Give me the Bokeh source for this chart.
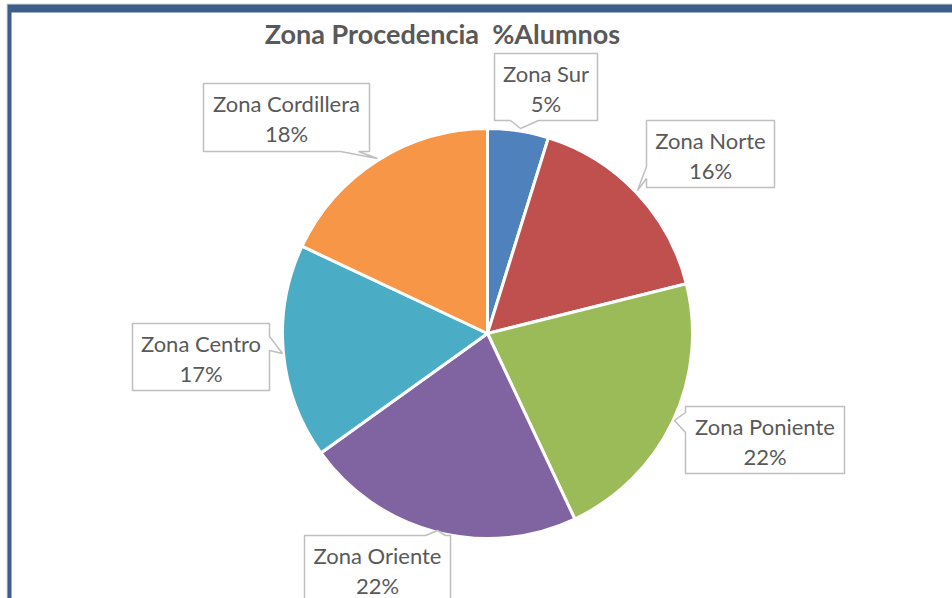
import math
from bokeh.plotting import figure
from bokeh.models import Range1d, ColumnDataSource
from bokeh.core.properties import value
from bokeh.embed import file_html
from bokeh.resources import INLINE

# ---- data ----
categories = ["Zona Sur", "Zona Norte", "Zona Poniente", "Zona Oriente", "Zona Centro", "Zona Cordillera"]
percent = [4.8, 16.3, 21.9, 22.1, 16.9, 18.0]
colors = ["#4F81BD", "#C0504D", "#9BBB59", "#8064A2", "#4BACC6", "#F79646"]
title_text = "Zona Procedencia  %Alumnos"

W, H = 952, 598
def Y(y):
    return H - y

p = figure(width=W, height=H, x_range=Range1d(0, W), y_range=Range1d(0, H),
           output_backend="svg", toolbar_location=None, min_border=0,
           background_fill_color="white", border_fill_color="white")
p.axis.visible = False
p.grid.visible = False
p.outline_line_color = None

# frame border
p.quad(left=[6], right=[W], bottom=[Y(598)], top=[Y(3)], fill_color="#D9D9D9", line_color=None)
p.quad(left=[7], right=[W], bottom=[Y(598)], top=[Y(4)], fill_color="#3B5E8C", line_color=None)
p.quad(left=[11], right=[W], bottom=[Y(598)], top=[Y(12)], fill_color="white", line_color=None)

# pie
cx, cy, R = 487, Y(333), 205
total = sum(percent)
starts, ends = [], []
acc = 0.0
for v in percent:
    starts.append(math.pi / 2 - acc / total * 2 * math.pi)
    acc += v
    ends.append(math.pi / 2 - acc / total * 2 * math.pi)
src = ColumnDataSource(dict(start=starts, end=ends, color=colors, cat=categories))
p.wedge(x=cx, y=cy, radius=R, start_angle="start", end_angle="end", direction="clock",
        fill_color="color", line_color="white", line_width=3, source=src)

# callout layout (pixel positions, top-down)
boxes = {
    "Zona Sur": dict(box=(494, 53, 597, 120), side="bottom", base=(510, 538), tip=(520, 128)),
    "Zona Norte": dict(box=(646, 120, 774, 187), side="left", base=(166, 178), tip=(637, 190)),
    "Zona Poniente": dict(box=(685, 406, 844, 473), side="left", base=(412, 432), tip=(674, 420)),
    "Zona Oriente": dict(box=(304, 535, 450, 620), side="top", base=(425, 445), tip=(437, 530)),
    "Zona Centro": dict(box=(132, 323, 269, 390), side="right", base=(336, 350), tip=(282, 353)),
    "Zona Cordillera": dict(box=(203, 83, 369, 151), side="bottom", base=(340, 358), tip=(377, 158)),
}

xs, ys = [], []
for cat in categories:
    d = boxes[cat]
    l, t, r, b = d["box"]
    b0, b1 = d["base"]
    tx, ty = d["tip"]
    if d["side"] == "bottom":
        pts = [(l, t), (r, t), (r, b), (b1, b), (tx, ty), (b0, b), (l, b)]
    elif d["side"] == "top":
        pts = [(l, t), (b0, t), (tx, ty), (b1, t), (r, t), (r, b), (l, b)]
    elif d["side"] == "left":
        pts = [(l, t), (r, t), (r, b), (l, b), (l, b1), (tx, ty), (l, b0)]
    else:
        pts = [(l, t), (r, t), (r, b0), (tx, ty), (r, b1), (r, b), (l, b)]
    xs.append([pt[0] for pt in pts])
    ys.append([Y(pt[1]) for pt in pts])
p.patches(xs=xs, ys=ys, fill_color="white", line_color="#BFBFBF", line_width=1.5)

name_x, name_y, pct_y, pct_txt = [], [], [], []
for cat, v in zip(categories, percent):
    l, t, r, b = boxes[cat]["box"]
    name_x.append((l + r) / 2)
    name_y.append(Y(t + 20))
    pct_y.append(Y(t + 50))
    pct_txt.append(f"{round(v)}%")

fnt = value("Lato")
p.text(x=name_x, y=name_y, text=categories, text_font=fnt, text_font_size="22px",
       text_color="#595959", text_align="center", text_baseline="middle")
p.text(x=name_x, y=pct_y, text=pct_txt, text_font=fnt, text_font_size="22px",
       text_color="#595959", text_align="center", text_baseline="middle")

p.text(x=[442], y=[Y(33)], text=[title_text.replace("  ", "\u00a0 ")], text_font=fnt,
       text_font_size="27px", text_font_style="bold", text_color="#595959",
       text_align="center", text_baseline="middle")

open("out.html", "w").write(file_html(p, INLINE))
